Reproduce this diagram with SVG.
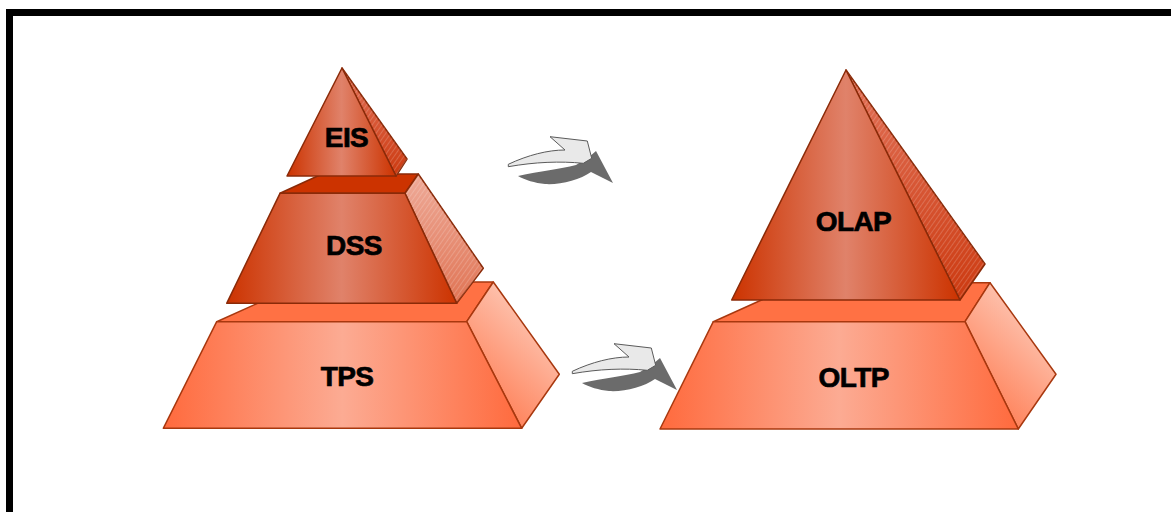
<svg xmlns="http://www.w3.org/2000/svg" width="1171" height="512" viewBox="0 0 1171 512">
  <style>
    .lbl { font-family: "Liberation Sans", Arial, sans-serif; font-weight: bold; font-size: 28px; fill: #000; stroke: #000; stroke-width: 0.7; letter-spacing: -0.6px; text-anchor: middle; }
    .dark { stroke: #8a2a08; stroke-width: 1.5; stroke-linejoin: round; }
    .light { stroke: #a8380f; stroke-width: 1.5; stroke-linejoin: round; }
    .arrow-face { fill: #e9e9e9; stroke: #5a5a5a; stroke-width: 1; stroke-linejoin: round; }
    .arrow-side { fill: #6b6b6b; }
  </style>
  <defs>
    <linearGradient id="gDark" x1="0" y1="0" x2="1" y2="0">
      <stop offset="0" stop-color="#cc3300"/>
      <stop offset="0.5" stop-color="#e0826a"/>
      <stop offset="1" stop-color="#cc3300"/>
    </linearGradient>
    <linearGradient id="gLight" x1="0" y1="0" x2="1" y2="0">
      <stop offset="0" stop-color="#ff6a3d"/>
      <stop offset="0.5" stop-color="#fcab93"/>
      <stop offset="1" stop-color="#ff6a3d"/>
    </linearGradient>
    <linearGradient id="gLightSide" x1="0.8" y1="0" x2="0.2" y2="1">
      <stop offset="0" stop-color="#fdd6c8"/>
      <stop offset="1" stop-color="#ff7448"/>
    </linearGradient>
    <linearGradient id="gDarkSide" x1="0" y1="0" x2="0" y2="1">
      <stop offset="0" stop-color="#e2735a"/>
      <stop offset="1" stop-color="#cc3a10"/>
    </linearGradient>
    <linearGradient id="gPinkSide" x1="0" y1="0" x2="0" y2="1">
      <stop offset="0" stop-color="#eeaa98"/>
      <stop offset="1" stop-color="#e07454"/>
    </linearGradient>
    <pattern id="hatch" width="4" height="4" patternUnits="userSpaceOnUse" patternTransform="rotate(35)">
      <line x1="0" y1="0" x2="0" y2="4" stroke="#ffffff" stroke-opacity="0.35" stroke-width="1"/>
    </pattern>
  </defs>

  <rect width="1171" height="512" fill="#ffffff"/>

  <!-- frame -->
  <rect x="9.5" y="12.5" width="1200" height="600" fill="none" stroke="#000" stroke-width="7"/>

  <!-- left pyramid -->
  <g id="node-tps">
    <polygon class="light" points="216.7,321.7 305,282 493.3,282 466.7,321.7" fill="#ff7144"/>
    <polygon class="light" points="466.7,321.7 493.3,282 559.3,374.3 521.7,428.3" fill="url(#gLightSide)"/>
    <polygon class="light" points="216.7,321.7 466.7,321.7 521.7,428.3 163.3,428.3" fill="url(#gLight)"/>
    <text class="lbl" x="347" y="386">TPS</text>
  </g>

  <g id="node-dss">
    <polygon class="dark" points="280,193.3 322,174 418.3,174 405,193.3" fill="#cc3300"/>
    <polygon class="dark" points="405,193.3 418.3,174 483.3,268.3 456.7,303.3" fill="url(#gPinkSide)"/>
    <polygon points="405,193.3 418.3,174 483.3,268.3 456.7,303.3" fill="url(#hatch)"/>
    <polygon class="dark" points="280,193.3 405,193.3 456.7,303.3 226.7,303.3" fill="url(#gDark)"/>
    <text class="lbl" x="354" y="255">DSS</text>
  </g>

  <g id="node-eis">
    <polygon class="dark" points="342,68 407,159 396,176" fill="url(#gDarkSide)"/>
    <polygon points="342,68 407,159 396,176" fill="url(#hatch)"/>
    <polygon class="dark" points="342,68 396,176 287,176" fill="url(#gDark)"/>
    <text class="lbl" x="346.5" y="146.5">EIS</text>
  </g>

  <!-- right pyramid -->
  <g id="node-oltp">
    <polygon class="light" points="713.3,321.7 800,282.7 990,282.7 965,321.7" fill="#ff7144"/>
    <polygon class="light" points="965,321.7 990,282.7 1056,374.3 1018.3,429" fill="url(#gLightSide)"/>
    <polygon class="light" points="713.3,321.7 965,321.7 1018.3,429 660,429" fill="url(#gLight)"/>
    <text class="lbl" x="853.7" y="387">OLTP</text>
  </g>

  <g id="node-olap">
    <polygon class="dark" points="846,70 985,264 960,300" fill="url(#gDarkSide)"/>
    <polygon points="846,70 985,264 960,300" fill="url(#hatch)"/>
    <polygon class="dark" points="846,70 960,300 731.7,300" fill="url(#gDark)"/>
    <text class="lbl" x="853.5" y="231">OLAP</text>
  </g>

  <!-- curved transition arrows -->
  <g id="connectors">
    <g id="arrow-top">
      <path class="arrow-side" d="M518,176 C540,171 560,169 576,165 L589,157 L596,151 L613,183 L601,177 L591,172 C580,180 560,185 545,184 C535,183 525,180 518,176 Z"/>
      <path class="arrow-face" d="M508.3,164.3 C528,155 548,150 565,150 L550,136.7 L587.3,141 L591.7,158.3 L583.3,163.3 C560,161 535,162 508.3,166.7 Z"/>
    </g>
    <g id="arrow-bottom" transform="translate(64,207)">
      <path class="arrow-side" d="M518,176 C540,171 560,169 576,165 L589,157 L596,151 L613,183 L601,177 L591,172 C580,180 560,185 545,184 C535,183 525,180 518,176 Z"/>
      <path class="arrow-face" d="M508.3,164.3 C528,155 548,150 565,150 L550,136.7 L587.3,141 L591.7,158.3 L583.3,163.3 C560,161 535,162 508.3,166.7 Z"/>
    </g>
  </g>
</svg>
